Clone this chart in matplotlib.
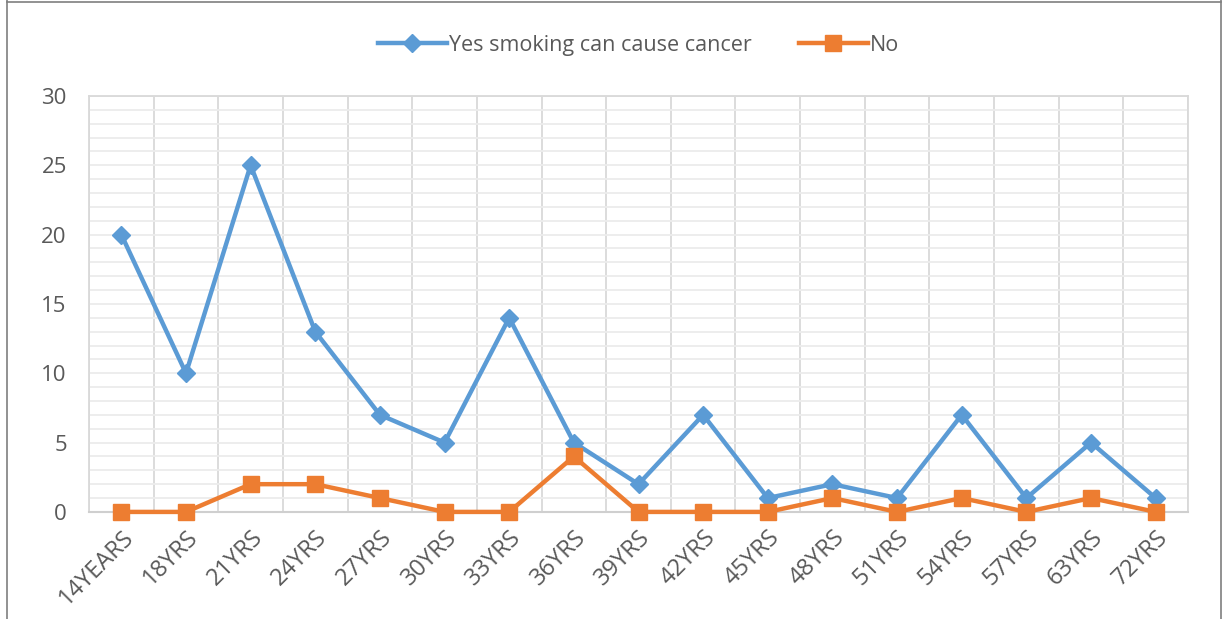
import numpy as np
import matplotlib.pyplot as plt
from matplotlib.ticker import MultipleLocator

# data
ages = ['14YEARS', '18YRS', '21YRS', '24YRS', '27YRS', '30YRS', '33YRS', '36YRS',
        '39YRS', '42YRS', '45YRS', '48YRS', '51YRS', '54YRS', '57YRS', '63YRS', '72YRS']
yes_vals = [20, 10, 25, 13, 7, 5, 14, 5, 2, 7, 1, 2, 1, 7, 1, 5, 1]
no_vals = [0, 0, 2, 2, 1, 0, 0, 4, 0, 0, 0, 1, 0, 1, 0, 1, 0]

plt.rcParams['font.family'] = ['Open Sans', 'DejaVu Sans']

BLUE = '#5B9BD5'
ORANGE = '#ED7D31'
GRID = '#d9d9d9'
TXT = '#595959'

fig = plt.figure(figsize=(12.26, 6.19), dpi=100)
ax = fig.add_axes([0.0726, 0.173, 0.8964, 0.672])

x = np.arange(len(ages))
ax.plot(x, yes_vals, '-D', color=BLUE, lw=3.2, ms=9, clip_on=False,
        label='Yes smoking can cause cancer', zorder=3)
ax.plot(x, no_vals, '-s', color=ORANGE, lw=3.2, ms=11, clip_on=False,
        label='No', zorder=4)

ax.set_xlim(-0.5, len(ages) - 0.5)
ax.set_ylim(0, 30)
ax.set_xticks(x)
ax.set_xticklabels(ages, rotation=45, ha='right', rotation_mode='anchor', fontsize=17)
ax.set_xticks(np.arange(-0.5, len(ages), 1), minor=True)
ax.yaxis.set_major_locator(MultipleLocator(5))
ax.yaxis.set_minor_locator(MultipleLocator(1))

ax.grid(True, axis='x', which='minor', color=GRID, lw=1.3)
ax.grid(True, axis='y', which='both', color='#ececec', lw=1.3)
ax.tick_params(axis='both', which='both', length=0, colors=TXT)
ax.tick_params(axis='y', labelsize=16, pad=16)
ax.tick_params(axis='x', pad=10)
for s in ['top', 'right', 'left']:
    ax.spines[s].set_color(GRID)
    ax.spines[s].set_linewidth(1.3)
ax.spines['bottom'].set_color('#cfcfcf')
ax.spines['bottom'].set_linewidth(1.5)
ax.set_axisbelow(True)

ax.legend(loc='lower center', bbox_to_anchor=(0.5, 1.05), ncol=2, frameon=False,
          fontsize=15.5, labelcolor=TXT, handlelength=3.2, handletextpad=0.1,
          columnspacing=2.2)

# border around the figure
fig.add_artist(plt.Line2D([0.006, 0.006], [0, 1], color='#7f7f7f', lw=1.2))
fig.add_artist(plt.Line2D([0.996, 0.996], [0, 1], color='#7f7f7f', lw=1.2))
fig.add_artist(plt.Line2D([0.006, 0.996], [0.997, 0.997], color='#7f7f7f', lw=1.2))

fig.savefig('out.png', dpi=100)
